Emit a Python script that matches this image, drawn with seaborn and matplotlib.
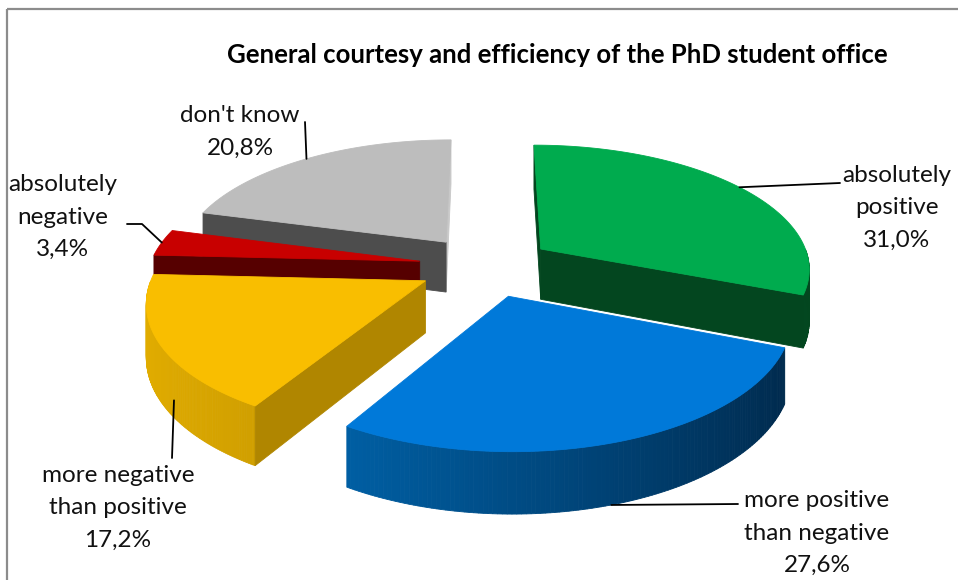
import numpy as np
import matplotlib.pyplot as plt
import seaborn as sns
from matplotlib.patches import Polygon, Rectangle
from matplotlib.colors import to_rgb

# Survey answers, clockwise from 12 o'clock
categories = ["absolutely\npositive", "more positive\nthan negative",
              "more negative\nthan positive", "absolutely\nnegative", "don't know"]
shares = [31.0, 27.6, 17.2, 3.4, 20.8]

top_colors = ["#00AB4E", "#0079D9", "#F9BE00", "#C80000", "#BDBDBD"]
wall_light = ["#0A7A38", "#0070C0", "#E2AD00", "#6A0000", "#5A5A5A"]
wall_dark = ["#03461F", "#00284A", "#9A7500", "#560000", "#4D4D4D"]
# colour of the radial cut at the low / high angle of each slice
cut_colors = [("#03461F", "#03461F"), ("#00284A", "#00284A"),
              ("#560000", "#B08600"), ("#560000", "#560000"),
              ("#C8C8C8", "#4D4D4D")]
# label block centres, where each leader leaves the text,
# and where it meets the slice (fraction along the arc, fraction of depth)
label_pos = [(897, 208), (817, 533), (118, 508), (63, 217), (240, 132)]
leader_from = [[(840, 183)], [(738, 504)], [(172, 458)],
               [(127, 224), (142, 224)], [(305, 122)]]
leader_at = [(0.5, 0.0), (0.49, -1.0), (0.61, -0.7), (0.5, 0.0), (0.5, 0.0)]

sns.set_theme(style="white")
plt.rcParams['font.family'] = ['Lato', 'DejaVu Sans']

# simple perspective of a tilted disc, in pixels
CX, CY, SCALE = 486, 266, 270
K, C, H = 0.144, 0.457, 0.19
EXPLODE = 0.25


def proj(x, y, z):
    d = 1 + K * y
    return CX + SCALE * x / d, CY - SCALE * (C * y + z) / d


def mix(c1, c2, t):
    a, b = np.array(to_rgb(c1)), np.array(to_rgb(c2))
    return tuple(a * (1 - t) + b * t)


fig = plt.figure(figsize=(9.58, 5.8), dpi=100)
ax = fig.add_axes([0, 0, 1, 1])
ax.set_xlim(0, 958)
ax.set_ylim(580, 0)
ax.axis("off")

# frame of the chart area (only top and left visible)
ax.add_patch(Rectangle((7, 9), 1000, 1000, fill=False, ec="#8C8C8C", lw=1.6))

slices = []
start = 90.0
for i, s in enumerate(shares):
    hi = start
    lo = start - s * 3.6
    start = lo
    mid = np.radians((hi + lo) / 2)
    ox, oy = EXPLODE * np.cos(mid), EXPLODE * np.sin(mid)
    slices.append((i, np.radians(lo), np.radians(hi), ox, oy, mid))

# paint back slices first
for i, lo, hi, ox, oy, mid in sorted(slices, key=lambda t: -t[4]):
    th = np.linspace(lo, hi, 120)
    rx, ry = ox + np.cos(th), oy + np.sin(th)

    # outer wall, front half only
    for j in range(len(th) - 1):
        t0 = 0.5 * (th[j] + th[j + 1])
        if np.sin(t0) >= 0:
            continue
        pts = [proj(rx[j], ry[j], 0), proj(rx[j + 1], ry[j + 1], 0),
               proj(rx[j + 1], ry[j + 1], -H), proj(rx[j], ry[j], -H)]
        col = mix(wall_dark[i], wall_light[i], (1 - np.cos(t0)) / 2)
        ax.add_patch(Polygon(pts, closed=True, fc=col, ec=col, lw=0.6))

    # radial cuts
    for a, nrm, col in [(lo, (np.sin(lo), -np.cos(lo)), cut_colors[i][0]),
                        (hi, (-np.sin(hi), np.cos(hi)), cut_colors[i][1])]:
        px, py = ox + 0.5 * np.cos(a), oy + 0.5 * np.sin(a)
        if nrm[0] * (-px) + nrm[1] * (-30 - py) <= 0:
            continue
        ex, ey = ox + np.cos(a), oy + np.sin(a)
        pts = [proj(ox, oy, 0), proj(ex, ey, 0), proj(ex, ey, -H), proj(ox, oy, -H)]
        ax.add_patch(Polygon(pts, closed=True, fc=col, ec=col, lw=0.6))

    # top face
    pts = [proj(ox, oy, 0)] + [proj(x, y, 0) for x, y in zip(rx, ry)]
    ax.add_patch(Polygon(pts, closed=True, fc=top_colors[i], ec=top_colors[i], lw=0.6))

# labels with leader lines
for i, lo, hi, ox, oy, mid in slices:
    f, zf = leader_at[i]
    a = lo + f * (hi - lo)
    anchor = proj(ox + np.cos(a), oy + np.sin(a), -zf * -H if zf else 0.0)
    path = leader_from[i] + [anchor]
    ax.plot([p[0] for p in path], [p[1] for p in path], color="black", lw=1.3)
    txt = f"{categories[i]}\n{shares[i]:.1f}%".replace(".", ",")
    ax.text(label_pos[i][0], label_pos[i][1], txt, ha="center", va="center",
            fontsize=17.5, linespacing=1.65, color="#111111")

ax.text(557, 55, "General courtesy and efficiency of the PhD student office",
        ha="center", va="center", fontsize=18.5, fontweight="bold", color="black")

fig.savefig("out.png", dpi=100)
